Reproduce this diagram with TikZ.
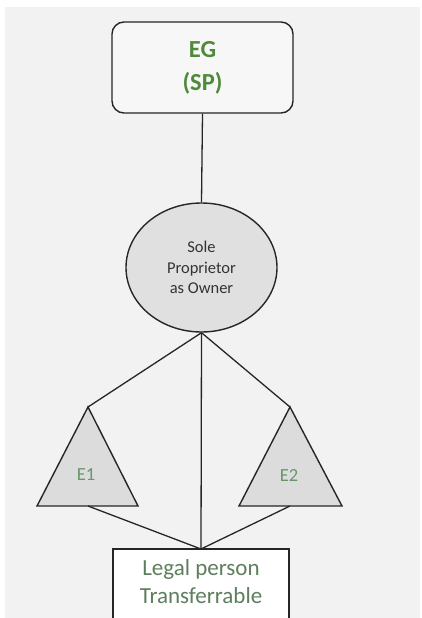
\documentclass[tikz,border=0pt]{standalone}
\usepackage{fontspec}
\setmainfont{Carlito}
\usetikzlibrary{shapes.geometric}
\definecolor{bg}{HTML}{F2F2F2}
\definecolor{egreen}{HTML}{4E8A3A}
\definecolor{lgreen}{HTML}{5E7F5E}
\definecolor{tgreen}{HTML}{6A956A}
\definecolor{lightfill}{HTML}{DCDCDC}
\definecolor{txt}{HTML}{333333}
\tikzset{
  conn/.style={draw=black!85, line width=1.3pt},
  shapeline/.style={draw=black!85, line width=1.4pt},
}
\begin{document}
\begin{tikzpicture}[x=1pt,y=-1pt]
\useasboundingbox (0,0) rectangle (422,618);
\fill[white] (0,0) rectangle (422,618);
\fill[bg] (5,7) rectangle (420,618);
% top box
\node[shapeline, fill=bg!60!white, rounded corners=12pt, minimum width=181pt, minimum height=91pt,
  inner sep=0pt, align=center, text=egreen, font=\fontsize{24.5}{33}\selectfont\bfseries]
  (eg) at (202.5,67.5) {EG\\(SP)};
% circle
\node[shapeline, fill=lightfill!80!bg, ellipse, minimum width=151pt, minimum height=129pt, inner sep=0pt,
  align=center, text=txt, font=\fontsize{16.5}{20.5}\selectfont] (sp) at (201.5,267.5) {Sole\\Proprietor\\as Owner};
% triangles
\coordinate (e1top) at (88,407);
\coordinate (e1base) at (88,506);
\coordinate (e2top) at (290,407);
\coordinate (e2base) at (290,506);
\filldraw[shapeline, fill=lightfill, line join=miter] (e1top) -- (37,506) -- (138,506) -- cycle;
\filldraw[shapeline, fill=lightfill, line join=miter] (e2top) -- (239,506) -- (342,506) -- cycle;
\node[text=tgreen, font=\fontsize{18.5}{20}\selectfont] (e1) at (86,475) {E1};
\node[text=tgreen, font=\fontsize{18.5}{20}\selectfont] (e2) at (289,475) {E2};
% bottom box
\draw[shapeline, fill=white, line width=1.2pt] (113,549) rectangle (289,625);
\coordinate (lpTop) at (201,549);
\node[text=lgreen, align=center, font=\fontsize{23}{28}\selectfont, inner sep=0pt] (lp) at (201,582) {Legal person\\Transferrable};
% connectors
\draw[conn] (eg.south) -- (sp.north);
\draw[conn] (sp.south) -- (e1top);
\draw[conn] (sp.south) -- (e2top);
\draw[conn] (sp.south) -- (lpTop);
\draw[conn] (e1base) -- (lpTop);
\draw[conn] (e2base) -- (lpTop);
\end{tikzpicture}
\end{document}
